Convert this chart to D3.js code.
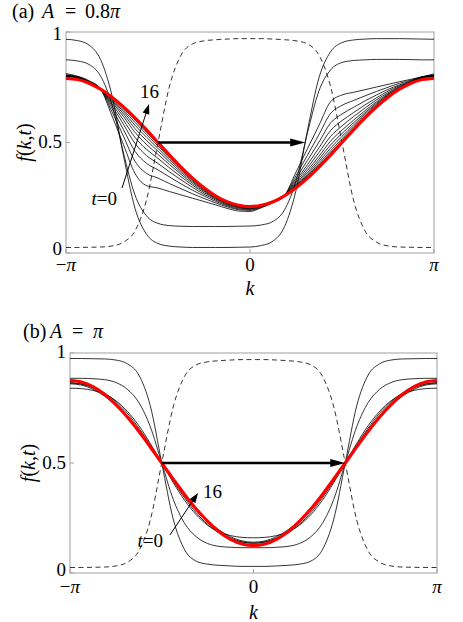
<!DOCTYPE html>
<html><head><meta charset="utf-8">
<script src="https://cdn.jsdelivr.net/npm/d3@7"></script>
<style>body{margin:0;background:#fff}svg{display:block}text{font-family:"Liberation Serif","Times New Roman",serif;fill:#000}</style>
</head><body><svg id="c" width="463" height="622"></svg>
<script>
// momentum grid (k from -pi to pi)
const kGrid = [-3.1416,-2.9452,-2.7489,-2.5525,-2.3562,-2.1598,-1.9635,-1.7671,-1.5708,-1.3744,-1.1781,-0.9817,-0.7854,-0.5890,-0.3927,-0.1963,0,
  0.1963,0.3927,0.5890,0.7854,0.9817,1.1781,1.3744,1.5708,1.7671,1.9635,2.1598,2.3562,2.5525,2.7489,2.9452,3.1416];
const xTicks = [-3.1416, 0, 3.1416];
const xTickLabels = ["−π", "0", "π"];
const yTicks = [0, 0.5, 1];
const yTickLabels = ["0", "0.5", "1"];

// dashed: equilibrium distribution (same in both panels)
const dashedF = [0.025,0.025,0.026,0.027,0.032,0.049,0.10,0.24,0.5,0.755,0.895,0.946,0.96,0.965,0.968,0.97,0.97,
  0.97,0.968,0.965,0.96,0.946,0.895,0.755,0.5,0.24,0.10,0.049,0.032,0.027,0.026,0.025,0.025];

// panel (a) A = 0.8 pi
const aT0 = [0.967,0.961,0.941,0.876,0.712,0.44,0.202,0.085,0.043,0.031,0.027,0.025,0.025,0.025,0.025,0.026,0.027,
  0.034,0.054,0.119,0.283,0.555,0.793,0.91,0.952,0.964,0.968,0.97,0.97,0.97,0.969,0.968,0.967];
const aT1 = [0.874,0.869,0.853,0.801,0.670,0.452,0.262,0.168,0.134,0.124,0.121,0.12,0.12,0.12,0.12,0.121,0.122,
  0.127,0.143,0.195,0.326,0.544,0.734,0.828,0.862,0.871,0.874,0.876,0.876,0.876,0.875,0.874,0.874];
const aT2 = [0.812,0.800,0.780,0.742,0.620,0.490,0.360,0.305,0.294,0.278,0.263,0.248,0.233,0.218,0.202,0.190,0.188,
  0.205,0.228,0.260,0.366,0.472,0.578,0.684,0.715,0.727,0.739,0.751,0.763,0.775,0.786,0.798,0.810];
const aT3 = [0.807,0.797,0.777,0.742,0.639,0.528,0.415,0.360,0.339,0.314,0.291,0.268,0.247,0.227,0.209,0.196,0.193,
  0.207,0.229,0.260,0.350,0.443,0.536,0.631,0.668,0.690,0.711,0.731,0.750,0.768,0.782,0.797,0.806];
const aT4 = [0.803,0.797,0.775,0.742,0.654,0.558,0.460,0.406,0.376,0.344,0.313,0.284,0.258,0.234,0.214,0.200,0.197,
  0.209,0.230,0.260,0.338,0.419,0.502,0.588,0.629,0.659,0.688,0.715,0.740,0.761,0.779,0.797,0.803];
const aT5 = [0.802,0.797,0.774,0.741,0.666,0.582,0.496,0.441,0.405,0.367,0.331,0.297,0.266,0.240,0.218,0.204,0.200,
  0.211,0.230,0.259,0.328,0.400,0.476,0.554,0.599,0.635,0.670,0.702,0.732,0.757,0.776,0.797,0.802];
const aT6 = [0.802,0.797,0.772,0.741,0.675,0.601,0.523,0.469,0.428,0.385,0.345,0.307,0.273,0.245,0.222,0.207,0.202,
  0.212,0.231,0.259,0.320,0.386,0.455,0.527,0.575,0.617,0.656,0.693,0.725,0.753,0.774,0.797,0.802];
const aT7 = [0.801,0.796,0.771,0.741,0.683,0.617,0.546,0.491,0.446,0.400,0.356,0.315,0.279,0.248,0.224,0.209,0.204,
  0.213,0.231,0.259,0.313,0.374,0.438,0.506,0.556,0.601,0.644,0.684,0.720,0.750,0.773,0.796,0.801];
const aT8 = [0.800,0.795,0.770,0.741,0.689,0.629,0.563,0.509,0.461,0.412,0.365,0.322,0.283,0.251,0.226,0.211,0.206,
  0.214,0.231,0.259,0.308,0.364,0.425,0.489,0.541,0.589,0.635,0.678,0.716,0.747,0.771,0.795,0.800];
const aT9 = [0.800,0.794,0.770,0.741,0.694,0.639,0.578,0.524,0.473,0.422,0.373,0.327,0.287,0.254,0.228,0.213,0.207,
  0.215,0.231,0.259,0.304,0.356,0.414,0.474,0.528,0.579,0.628,0.673,0.713,0.745,0.770,0.794,0.800];
const aT10 = [0.799,0.793,0.769,0.741,0.698,0.647,0.591,0.537,0.484,0.430,0.379,0.332,0.290,0.256,0.230,0.214,0.208,
  0.215,0.232,0.259,0.301,0.350,0.404,0.462,0.517,0.571,0.621,0.668,0.710,0.744,0.769,0.793,0.799];
const aT11 = [0.798,0.792,0.769,0.741,0.702,0.654,0.601,0.547,0.492,0.436,0.384,0.335,0.293,0.257,0.231,0.215,0.209,
  0.216,0.232,0.259,0.298,0.344,0.397,0.453,0.509,0.564,0.616,0.665,0.707,0.742,0.769,0.792,0.798];
const aRed = [0.79,0.785,0.768,0.741,0.705,0.661,0.611,0.557,0.5,0.443,0.389,0.339,0.295,0.259,0.232,0.216,0.21,
  0.216,0.232,0.259,0.295,0.339,0.389,0.443,0.5,0.557,0.611,0.661,0.705,0.741,0.768,0.785,0.79];
const aSeries = [aT0, aT1, aT2, aT3, aT4, aT5, aT6, aT7, aT8, aT9, aT10, aT11];

// panel (b) A = pi
const bT0 = [0.975,0.975,0.974,0.973,0.968,0.951,0.90,0.76,0.5,0.245,0.105,0.054,0.04,0.035,0.032,0.03,0.03,
  0.03,0.032,0.035,0.04,0.054,0.105,0.245,0.5,0.76,0.90,0.951,0.968,0.973,0.974,0.975,0.975];
const bA = [0.885,0.885,0.883,0.879,0.866,0.835,0.775,0.665,0.5,0.335,0.225,0.165,0.134,0.121,0.117,0.115,0.115,
  0.115,0.117,0.121,0.134,0.165,0.225,0.335,0.5,0.665,0.775,0.835,0.866,0.879,0.883,0.885,0.885];
const bB = [0.84,0.838,0.830,0.813,0.783,0.735,0.67,0.589,0.5,0.411,0.33,0.265,0.217,0.187,0.170,0.162,0.16,
  0.162,0.170,0.187,0.217,0.265,0.33,0.411,0.5,0.589,0.67,0.735,0.783,0.813,0.830,0.838,0.84];
const bC1 = [0.86,0.854,0.835,0.804,0.762,0.708,0.645,0.574,0.5,0.426,0.355,0.292,0.238,0.196,0.165,0.146,0.14,
  0.146,0.165,0.196,0.238,0.292,0.355,0.426,0.5,0.574,0.645,0.708,0.762,0.804,0.835,0.854,0.86];
const bC2 = [0.865,0.860,0.845,0.819,0.779,0.726,0.659,0.582,0.5,0.418,0.341,0.274,0.221,0.181,0.155,0.14,0.135,
  0.14,0.155,0.181,0.221,0.274,0.341,0.418,0.5,0.582,0.659,0.726,0.779,0.819,0.845,0.860,0.865];
const bC3 = [0.864,0.858,0.841,0.811,0.769,0.715,0.649,0.577,0.5,0.423,0.351,0.285,0.231,0.189,0.159,0.142,0.136,
  0.142,0.159,0.189,0.231,0.285,0.351,0.423,0.5,0.577,0.649,0.715,0.769,0.811,0.841,0.858,0.864];
const bRed = [0.875,0.868,0.847,0.812,0.765,0.709,0.644,0.573,0.5,0.427,0.356,0.291,0.235,0.188,0.153,0.132,0.125,
  0.132,0.153,0.188,0.235,0.291,0.356,0.427,0.5,0.573,0.644,0.709,0.765,0.812,0.847,0.868,0.875];
const bSeries = [bT0, bA, bB, bC1, bC2, bC3];

// annotations (data coordinates)
const aShift = {from:[-1.5708,0.5], to:[0.9425,0.5]};
const aTime = {from:[-2.185,0.294], to:[-1.724,0.674], lab16:[-1.878,0.70], lab0:[-2.271,0.217]};
const bShift = {from:[-1.5708,0.5], to:[1.5708,0.5]};
const bTime = {from:[-1.43,0.173], to:[-0.95,0.364], lab16:[-0.864,0.34], lab0:[-1.55,0.118]};

const svg = d3.select("#c");
svg.append("rect").attr("width",463).attr("height",622).attr("fill","#fff");

function head(g, x1, y1, x2, y2, len, half) {
  const a = Math.atan2(y2-y1, x2-x1), c = Math.cos(a), s = Math.sin(a);
  const bx = x2 - len*c, by = y2 - len*s;
  g.append("path").attr("d", `M${x2},${y2}L${bx - half*s},${by + half*c}L${bx + half*s},${by - half*c}Z`).attr("fill","#000");
  return [bx + 0.3*len*c, by + 0.3*len*s];
}

function panel(cfg) {
  const x = d3.scaleLinear([-Math.PI, Math.PI], [cfg.left, cfg.right]);
  const y = d3.scaleLinear([0, 1], [cfg.bottom, cfg.top]);
  const g = svg.append("g");
  const line = d3.line().x((d,i) => x(kGrid[i])).y(d => y(d)).curve(d3.curveMonotoneX);

  g.append("rect").attr("x", cfg.left).attr("y", cfg.top).attr("width", cfg.right-cfg.left).attr("height", cfg.bottom-cfg.top)
    .attr("fill","none").attr("stroke","#a0a0a0").attr("stroke-width",1);
  yTicks.forEach((v,i) => {
    g.append("line").attr("x1",cfg.left).attr("x2",cfg.left+4).attr("y1",y(v)).attr("y2",y(v)).attr("stroke","#a0a0a0");
    g.append("text").attr("x",cfg.left-4).attr("y",y(v)+cfg.yLabOff[i]).attr("text-anchor","end").attr("font-size",19).text(yTickLabels[i]);
  });
  xTicks.forEach((v,i) => {
    g.append("line").attr("x1",x(v)).attr("x2",x(v)).attr("y1",cfg.bottom).attr("y2",cfg.bottom-4).attr("stroke","#a0a0a0");
    const t = g.append("text").attr("x",x(v)).attr("y",cfg.xLabY).attr("text-anchor","middle").attr("font-size",19);
    if (i === 1) t.text(xTickLabels[i]);
    else {
      const lab = xTickLabels[i];
      if (lab.length > 1) t.append("tspan").text(lab[0]);
      t.append("tspan").attr("font-style","italic").text(lab[lab.length-1]);
    }
  });
  g.append("text").attr("x",(cfg.left+cfg.right)/2).attr("y",cfg.kLabY).attr("text-anchor","middle")
    .attr("font-size",20).attr("font-style","italic").text("k");
  const yl = g.append("text").attr("transform",`translate(${cfg.yLabX},${y(0.5)}) rotate(-90)`).attr("text-anchor","middle").attr("font-size",20);
  yl.append("tspan").attr("font-style","italic").text("f");
  yl.append("tspan").text("(");
  yl.append("tspan").attr("font-style","italic").text("k");
  yl.append("tspan").text(",");
  yl.append("tspan").attr("font-style","italic").text("t");
  yl.append("tspan").text(")");

  const tp = [[cfg.titleParts[0], "normal"], ["A", "italic"], ["=", "normal"], [cfg.titleParts[1], "normal"]];
  tp.forEach((p, i) => {
    const t = svg.append("text").attr("x", cfg.titleX[i]).attr("y", cfg.titleY).attr("font-size", 20).attr("font-style", p[1]);
    t.text(p[0]);
    if (i === 3) t.append("tspan").attr("font-style","italic").text("π");
  });

  g.append("path").attr("d", line(dashedF)).attr("fill","none").attr("stroke","#000").attr("stroke-width",0.8).attr("stroke-dasharray","5,3.5");
  cfg.series.forEach(s => g.append("path").attr("d", line(s)).attr("fill","none").attr("stroke","#000").attr("stroke-width",0.8));
  g.append("path").attr("d", line(cfg.red)).attr("fill","none").attr("stroke","#ff0000").attr("stroke-width",3.2);

  const sx1 = x(cfg.shift.from[0]), sy1 = y(cfg.shift.from[1]), sx2 = x(cfg.shift.to[0]), sy2 = y(cfg.shift.to[1]);
  const b1 = head(g, sx1, sy1, sx2, sy2, 15, 4);
  g.append("line").attr("x1",sx1).attr("y1",sy1).attr("x2",b1[0]).attr("y2",b1[1]).attr("stroke","#000").attr("stroke-width",2.4);
  const tx1 = x(cfg.time.from[0]), ty1 = y(cfg.time.from[1]), tx2 = x(cfg.time.to[0]), ty2 = y(cfg.time.to[1]);
  const b2 = head(g, tx1, ty1, tx2, ty2, 10, 3.5);
  g.append("line").attr("x1",tx1).attr("y1",ty1).attr("x2",b2[0]).attr("y2",b2[1]).attr("stroke","#000").attr("stroke-width",1);
  g.append("text").attr("x",x(cfg.time.lab16[0])).attr("y",y(cfg.time.lab16[1])).attr("font-size",19).text("16");
  const t0 = g.append("text").attr("x",x(cfg.time.lab0[0])).attr("y",y(cfg.time.lab0[1])).attr("text-anchor","end").attr("font-size",19);
  t0.append("tspan").attr("font-style","italic").text("t");
  t0.append("tspan").text("=0");
}

panel({left:66, right:434, top:32, bottom:253, series:aSeries, red:aRed, shift:aShift, time:aTime,
  yLabOff:[2,5.5,8], xLabY:271, kLabY:295, yLabX:31, titleY:18, titleX:[12,42,65,85], titleParts:["(a)","0.8"]});
panel({left:70, right:437, top:353, bottom:573, series:bSeries, red:bRed, shift:bShift, time:bTime,
  yLabOff:[3,6,5], xLabY:593, kLabY:619, yLabX:35, titleY:338, titleX:[23,50,72,93], titleParts:["(b)",""]});
</script></body></html>
